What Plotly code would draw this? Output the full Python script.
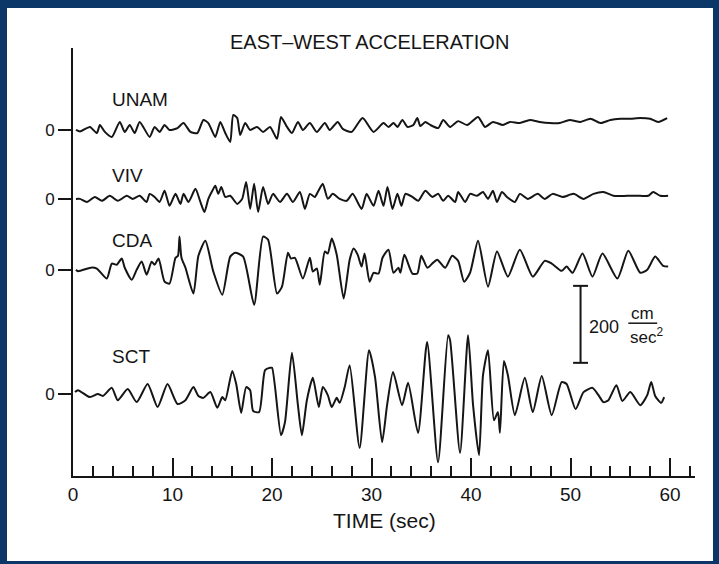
import plotly.graph_objects as go

# ---------------- data ----------------
STATIONS = ["UNAM", "VIV", "CDA", "SCT"]

UNAM_T = [0.3, 0.7, 1.7, 2.4, 2.7, 3.2, 3.9, 4.7, 5.2, 5.7, 6.2, 6.7, 7.7, 8.2, 8.7, 9.2, 9.7, 10.5, 11.1, 11.8,
          12.5, 13.1, 13.6, 14.3, 14.8, 15.3, 15.8, 16.1, 16.5, 16.8, 17.3, 17.8, 18.5, 19.1, 19.8, 20.5, 20.9, 21.5,
          22.0, 22.6, 23.1, 23.8, 24.5, 25.3, 25.8, 26.6, 27.1, 28.0, 29.1, 30.2, 31.2, 31.7, 32.2, 32.6, 33.1, 33.6,
          34.2, 34.6, 34.9, 35.4, 35.9, 36.7, 37.2, 37.9, 38.7, 39.6, 40.7, 41.4, 42.2, 43.2, 43.9, 44.9, 45.9, 46.9,
          47.9, 48.9, 49.9, 51.0, 52.0, 53.0, 54.0, 55.0, 56.0, 57.0, 58.0, 58.8, 59.7]
UNAM_A = [0, -4, 8, -8, 13, -5, -18, 21, -5, 13, -8, 21, -18, 8, -5, 13, 0, 5, 18, -5,
          -8, 26, 18, -18, 21, -8, -31, 39, 31, -13, 18, 0, 8, -5, 8, -23, 34, 8,
          -8, 21, 0, 18, -5, 18, 0, 21, 3, -5, 31, -5, 18, 8, 18, 8, 26, 8,
          13, 31, 10, 21, 13, 5, 26, 8, 23, 13, 34, 8, 21, 13, 21, 18, 26, 21,
          18, 18, 26, 21, 29, 18, 26, 29, 29, 31, 29, 21, 31]

VIV_T = [0.3, 0.7, 1.4, 2.2, 2.9, 3.7, 4.5, 5.4, 6.0, 6.7, 7.4, 7.7, 8.2, 8.7, 9.2, 9.7, 10.3, 10.8, 11.1, 11.6,
         12.3, 12.8, 13.2, 13.6, 14.0, 14.3, 14.6, 14.9, 15.3, 15.8, 16.5, 17.0, 17.4, 17.8, 18.2, 18.6, 19.1, 19.6,
         20.1, 20.8, 21.5, 22.1, 22.8, 23.3, 23.8, 24.3, 24.6, 25.1, 25.6, 26.1, 26.8, 27.5, 28.1, 29.0, 29.5, 30.2,
         30.7, 31.2, 31.6, 32.1, 32.6, 33.0, 33.4, 34.1, 34.7, 35.4, 36.1, 36.7, 37.2, 37.7, 38.4, 38.7, 39.4, 39.9,
         40.6, 41.2, 41.7, 42.2, 42.6, 43.1, 43.6, 44.4, 44.9, 45.7, 46.7, 47.4, 48.2, 49.2, 50.3, 51.3, 52.3, 53.3,
         54.3, 55.7, 57.0, 57.8, 58.3, 59.0, 59.8]
VIV_A = [0, 0, -8, 5, -5, 8, -5, 8, 0, 8, -8, 13, 5, -8, 21, -18, 13, -13, 13, -8,
         26, -8, -34, 0, 21, 34, 13, 31, 5, 8, -13, 0, 44, -26, 39, -34, 31, -13,
         13, -8, 13, -8, 18, -26, 13, 5, 18, 39, 0, 13, 0, -5, 13, -26, 13, -18,
         21, -18, 31, -26, 13, -18, 13, 5, -5, 21, 5, 13, -5, 8, -8, 18, -8, 13,
         8, 18, 0, 21, -8, 18, 5, -8, 13, 0, 13, 0, 13, 5, 13, 0, 13, 18,
         8, 8, 8, 8, 18, 8, 8]

CDA_T = [0.3, 0.5, 1.9, 2.4, 3.4, 3.9, 4.4, 4.9, 5.2, 5.9, 6.4, 6.9, 7.4, 7.9, 8.2, 8.6, 9.2, 9.7, 10.3, 10.55,
         10.7, 10.9, 11.3, 12.1, 12.6, 13.3, 14.1, 15.0, 15.8, 16.3, 17.1, 18.2, 19.1, 19.6, 20.5, 21.0, 21.6, 21.9,
         22.3, 23.1, 23.8, 24.1, 24.5, 24.8, 25.3, 25.6, 26.0, 26.5, 27.2, 27.8, 28.2, 28.6, 29.0, 29.3, 29.8, 30.2,
         30.7, 31.1, 31.7, 32.2, 32.7, 32.9, 33.3, 34.1, 34.6, 35.0, 35.6, 36.1, 36.6, 37.4, 38.1, 38.7, 39.3, 39.9,
         40.7, 41.7, 42.6, 43.7, 44.9, 46.2, 47.4, 48.1, 49.1, 49.6, 50.2, 51.2, 52.2, 53.2, 54.7, 55.8, 57.0, 57.7,
         58.5, 59.3, 59.8]
CDA_A = [0, -4, 6, 3, -23, 16, 13, 29, 5, -26, 0, 21, -13, 21, 13, 29, -31, -36, 31, 36,
         86, 31, 5, -62, 36, 75, -5, -65, 34, 44, 34, -91, 86, 78, -62, -44, 44, 29,
         31, -23, 31, -5, 3, -39, 47, 42, 81, 39, -75, 26, 55, 39, 8, 42, -31, -8,
         -10, 31, 52, -8, 5, -8, 39, -10, -10, 36, 5, 16, 26, 5, 36, 23, -31, -8,
         75, -44, 47, -18, 52, -18, 23, 16, -3, 8, -8, 42, -18, 42, -23, 49, -8, 0,
         34, 10, 8]

SCT_T = [0.2, 0.5, 1.7, 2.5, 3.0, 3.9, 4.5, 5.5, 6.4, 7.5, 8.5, 9.5, 10.5, 11.3, 12.1, 12.6, 13.1, 13.8, 14.5, 15.0,
         15.3, 16.0, 16.4, 16.9, 17.4, 17.8, 18.1, 18.7, 19.3, 19.8, 20.0, 20.9, 21.3, 22.0, 22.6, 23.0, 23.5, 24.1,
         24.7, 25.1, 25.6, 26.0, 26.5, 26.8, 27.3, 27.8, 28.8, 29.75, 30.35, 31.06, 31.56, 32.16, 33.07, 33.67,
         34.67, 35.58, 36.68, 37.69, 37.89, 38.89, 39.7, 40.2, 40.8, 41.2, 41.7, 42.3, 42.7, 42.9, 43.3, 43.7,
         44.4, 45.4, 46.2, 47.1, 48.1, 49.1, 49.6, 50.5, 51.3, 52.2, 52.8, 53.3, 53.8, 54.6, 55.2, 56.0, 57.0,
         57.7, 58.1, 58.5, 59.1, 59.4]
SCT_A = [5, 10, -8, 0, -5, 16, -16, 13, -21, 26, -34, 26, -26, -16, 18, -5, -10, 5, -36, -8,
         -16, 60, 26, -49, 18, 10, -44, -47, 62, 68, 68, -107, -73, 107, -29, -107, -16, 42,
         -34, 18, -3, -34, -10, -23, 18, 75, -140, 114, 44, -125, -29, 57, -29, 29,
         -101, 135, -177, 153, 140, -153, 153, -29, -159, 49, 114, -68, -47, -101, 86, 49,
         -55, 42, -47, 47, -55, 31, 26, -39, 5, 16, -3, -21, -16, 23, -18, 5, -29,
         -3, 31, -5, -23, -8]

X_TICKS = [0, 10, 20, 30, 40, 50, 60]
SCALE_VALUE = 200  # cm/sec^2

# ---------------- layout constants ----------------
BASE = {"UNAM": 899, "VIV": 720, "CDA": 536, "SCT": 213}      # trace baselines on the y axis
LABEL_Y = {"UNAM": 978, "VIV": 782, "CDA": 613, "SCT": 310}
SERIES = {"UNAM": (UNAM_T, UNAM_A), "VIV": (VIV_T, VIV_A), "CDA": (CDA_T, CDA_A), "SCT": (SCT_T, SCT_A)}

FONT = "Liberation Sans, Arial, Helvetica, sans-serif"
INK = "#151515"
NAVY = "#0a3768"

fig = go.Figure()
for s in STATIONS:
    t, a = SERIES[s]
    fig.add_trace(go.Scatter(
        x=t, y=[BASE[s] + v for v in a], mode="lines",
        line=dict(color=INK, width=2, shape="spline", smoothing=0.6),
        hoverinfo="skip", showlegend=False))

annotations = []
for s in STATIONS:
    annotations.append(dict(x=3.7, y=LABEL_Y[s], xref="x", yref="y", text=s, showarrow=False,
                            xanchor="left", yanchor="middle", font=dict(size=19, color=INK, family=FONT)))

annotations.append(dict(x=0.476, y=1.014, xref="paper", yref="paper", text="EAST–WEST ACCELERATION",
                        showarrow=False, xanchor="center", yanchor="middle",
                        font=dict(size=20, color=INK, family=FONT)))
annotations.append(dict(x=0.5016, y=-0.105, xref="paper", yref="paper", text="TIME (sec)",
                        showarrow=False, xanchor="center", yanchor="middle",
                        font=dict(size=21, color=INK, family=FONT)))

# scale bar
SB_X, SB_Y0 = 51.0, 294
annotations.append(dict(x=51.6, y=SB_Y0 + 94, xref="x", yref="y", text=str(SCALE_VALUE), showarrow=False,
                        xanchor="left", yanchor="middle", font=dict(size=18, color=INK, family=FONT)))
annotations.append(dict(x=57.2, y=SB_Y0 + 128, xref="x", yref="y", text="cm", showarrow=False,
                        xanchor="center", yanchor="middle", font=dict(size=17, color=INK, family=FONT)))
annotations.append(dict(x=55.75, y=SB_Y0 + 70, xref="x", yref="y", text="sec<sup>2</sup>", showarrow=False,
                        xanchor="left", yanchor="middle", font=dict(size=17, color=INK, family=FONT)))

shapes = [
    # white page inside navy frame
    dict(type="rect", xref="paper", yref="paper", x0=-0.1061, x1=1.0289, y0=-0.1986, y1=1.0935,
         fillcolor="white", line=dict(width=0), layer="below"),
    dict(type="line", xref="x", yref="y", x0=SB_X, x1=SB_X, y0=SB_Y0, y1=SB_Y0 + SCALE_VALUE,
         line=dict(color=INK, width=2)),
    dict(type="line", xref="x", yref="y", x0=SB_X - 0.75, x1=SB_X + 0.75, y0=SB_Y0, y1=SB_Y0,
         line=dict(color=INK, width=2)),
    dict(type="line", xref="x", yref="y", x0=SB_X - 0.75, x1=SB_X + 0.75, y0=SB_Y0 + SCALE_VALUE,
         y1=SB_Y0 + SCALE_VALUE, line=dict(color=INK, width=2)),
    dict(type="line", xref="x", yref="y", x0=55.8, x1=58.7, y0=SB_Y0 + 103, y1=SB_Y0 + 103,
         line=dict(color=INK, width=1.5)),
]

fig.update_layout(
    width=719, height=564,
    margin=dict(l=73, r=24, t=48, b=88),
    paper_bgcolor=NAVY, plot_bgcolor="white",
    font=dict(family=FONT, color=INK),
    annotations=annotations, shapes=shapes,
    xaxis=dict(range=[0, 62.5], showgrid=False, zeroline=False, showline=True, linecolor=INK, linewidth=2,
               tickvals=X_TICKS, ticktext=[str(v) for v in X_TICKS], ticks="inside", ticklen=18, tickwidth=2,
               tickcolor=INK, tickfont=dict(size=19, color=INK, family=FONT),
               minor=dict(dtick=2, tick0=0, ticks="inside", ticklen=10, tickwidth=2, tickcolor=INK),
               fixedrange=True),
    yaxis=dict(range=[0, 1112], showgrid=False, zeroline=False, showline=True, linecolor=INK, linewidth=2,
               tickvals=[BASE[s] for s in STATIONS], ticktext=["0"] * len(STATIONS), ticks="outside",
               ticklen=13, tickwidth=1.5, tickcolor=INK, tickfont=dict(size=17, color=INK, family=FONT),
               fixedrange=True),
)

fig.write_html("out.html")
